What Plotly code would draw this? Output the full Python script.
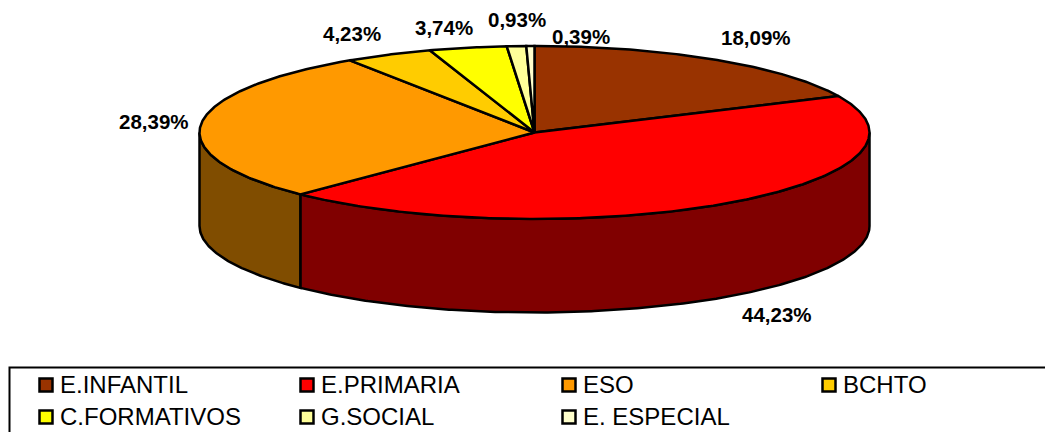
import math
import plotly.graph_objects as go

categories = ["E.INFANTIL", "E.PRIMARIA", "ESO", "BCHTO", "C.FORMATIVOS", "G.SOCIAL", "E. ESPECIAL"]
values = [18.09, 44.23, 28.39, 4.23, 3.74, 0.93, 0.39]
top_colors = ["#993300", "#FF0000", "#FF9900", "#FFCC00", "#FFFF00", "#FFFF99", "#FFFFCC"]
side_colors = ["#4D1A00", "#800000", "#804D00", "#806600", "#808000", "#80804D", "#808066"]

# Projection of the pie on to the page, in pixels
CX, CY, RX, RY, DEPTH = 534.5, 132.5, 335, 86.5, 93.5
W, H = 1045, 432
FONT = "Liberation Sans, Arial, sans-serif"


def pt(deg, drop=0):
    a = math.radians(deg)
    return CX + RX * math.sin(a), CY - RY * math.cos(a) + drop


def arc(a0, a1, drop=0):
    n = max(2, int(abs(a1 - a0) * 2) + 1)
    return [pt(a0 + (a1 - a0) * i / (n - 1), drop) for i in range(n)]


def poly(points, color):
    return go.Scatter(
        x=[p[0] for p in points], y=[p[1] for p in points],
        mode="lines", fill="toself", fillcolor=color,
        line=dict(color="black", width=2.5),
        hoverinfo="skip", showlegend=False,
    )


fig = go.Figure()
total = sum(values)
angles = [0]
for v in values:
    angles.append(angles[-1] + v / total * 360)

# Visible outer wall: the front half of the ellipse
for i, name in enumerate(categories):
    lo, hi = max(angles[i], 90), min(angles[i + 1], 270)
    if lo < hi:
        upper = arc(lo, hi)
        lower = arc(hi, lo, DEPTH)
        fig.add_trace(poly(upper + lower + upper[:1], side_colors[i]))

# Top face
for i, name in enumerate(categories):
    pts = [(CX, CY)] + arc(angles[i], angles[i + 1]) + [(CX, CY)]
    fig.add_trace(poly(pts, top_colors[i]))

# Percentage labels
label_x = [756, 777, 154, 352, 444, 517, 581]
label_y = [37, 314, 121, 33, 27, 19, 36]
for v, lx, ly in zip(values, label_x, label_y):
    fig.add_annotation(
        x=lx, y=ly, text="<b>" + f"{v:.2f}".replace(".", ",") + "%</b>",
        showarrow=False, xanchor="center", yanchor="middle",
        font=dict(family=FONT, size=20.5, color="black"),
    )

# Legend
swatch_x = [46, 307, 569, 829, 46, 307, 569]
swatch_y = [385, 385, 385, 385, 417, 417, 417]
fig.add_trace(go.Scatter(
    x=swatch_x, y=swatch_y, mode="markers",
    marker=dict(symbol="square", size=13, color=top_colors, line=dict(color="black", width=2.5)),
    hoverinfo="skip", showlegend=False,
))
fig.add_trace(go.Scatter(
    x=[x + 14 for x in swatch_x], y=[y + 1.5 for y in swatch_y], mode="text", text=categories,
    textposition="middle right",
    textfont=dict(family=FONT, size=24, color="black"),
    hoverinfo="skip", showlegend=False,
))
fig.add_shape(type="rect", x0=9.5, y0=367.5, x1=W + 20, y1=H + 20,
              line=dict(color="black", width=2), fillcolor="rgba(0,0,0,0)", layer="below")

fig.update_layout(
    width=W, height=H, margin=dict(l=0, r=0, t=0, b=0),
    paper_bgcolor="white", plot_bgcolor="white", showlegend=False,
    xaxis=dict(range=[0, W], visible=False, fixedrange=True),
    yaxis=dict(range=[H, 0], visible=False, fixedrange=True),
)
fig.write_html("out.html", config={"displayModeBar": False},
               post_script="document.body.style.margin='0';document.body.style.overflow='hidden';")
